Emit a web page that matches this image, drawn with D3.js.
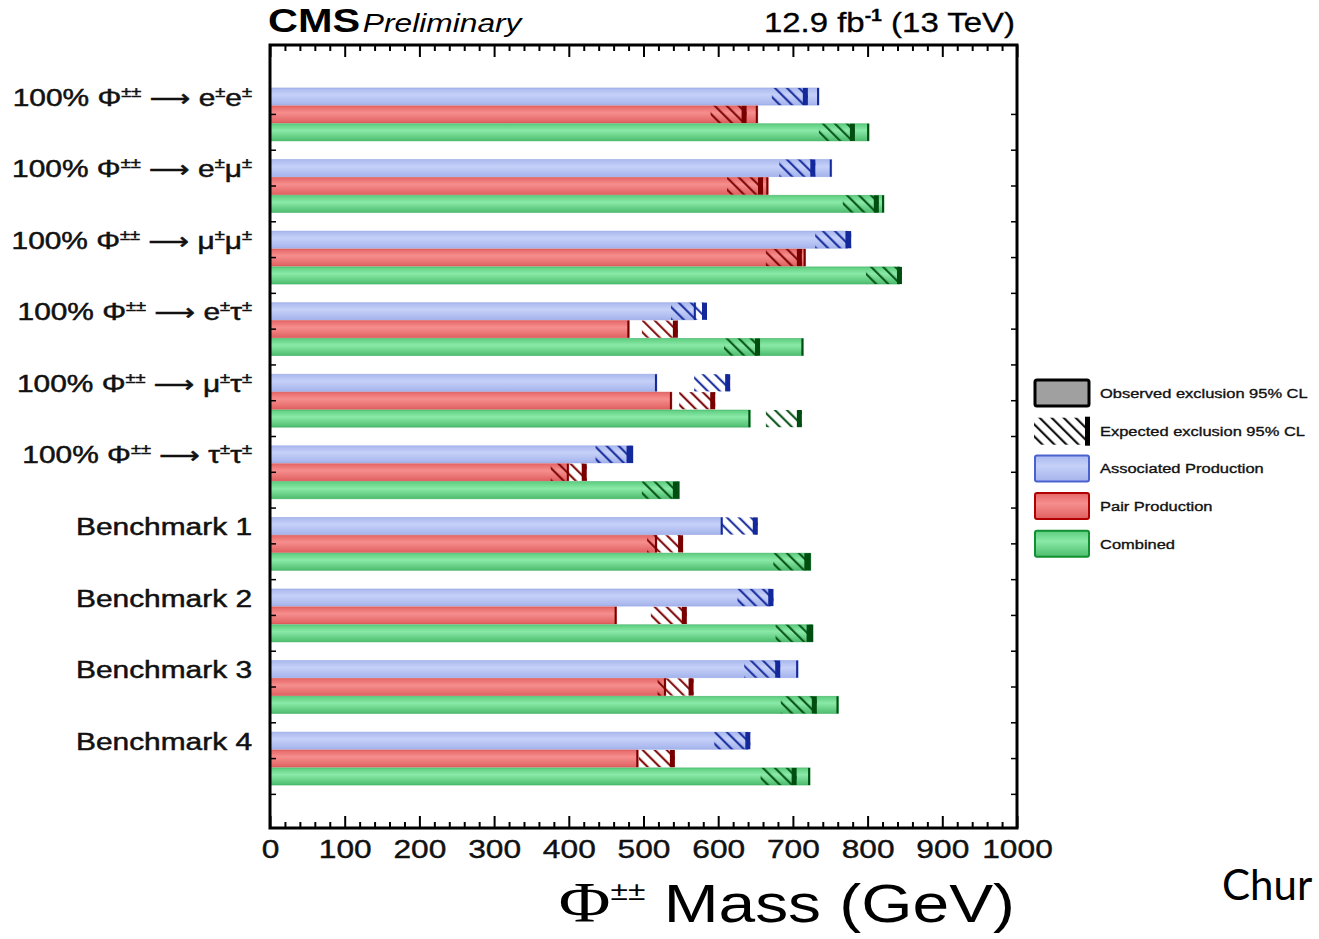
<!DOCTYPE html>
<html><head><meta charset="utf-8">
<script src="https://cdn.jsdelivr.net/npm/d3@7"></script>
<style>body{margin:0;background:#fff;} svg{display:block;}</style>
</head><body>
<svg id="chart" width="1319" height="939"></svg>
<script>
// ---------------- data ----------------
const categories = ["ee", "emu", "mumu", "etau", "mutau", "tautau", "B1", "B2", "B3", "B4"];
const categoryLabels = [
  "100% Φ^{±±} → e^{±}e^{±}",
  "100% Φ^{±±} → e^{±}μ^{±}",
  "100% Φ^{±±} → μ^{±}μ^{±}",
  "100% Φ^{±±} → e^{±}τ^{±}",
  "100% Φ^{±±} → μ^{±}τ^{±}",
  "100% Φ^{±±} → τ^{±}τ^{±}",
  "Benchmark 1", "Benchmark 2", "Benchmark 3", "Benchmark 4"
];
const seriesNames = ["Associated Production", "Pair Production", "Combined"];
// observed / expected 95% CL exclusion limits (GeV)
const assocObs = [735, 752, 773, 570, 518, 486, 606, 670, 707, 640];
const assocExp = [720, 730, 778, 585, 616, 484, 653, 674, 683, 643];
const pairObs  = [653, 667, 717, 481, 538, 400, 518, 464, 530, 493];
const pairExp  = [638, 660, 712, 546, 596, 424, 553, 558, 567, 542];
const combObs  = [802, 822, 843, 714, 643, 548, 724, 727, 761, 723];
const combExp  = [783, 815, 846, 656, 712, 546, 722, 725, 732, 705];
const xTickLabels = [0, 100, 200, 300, 400, 500, 600, 700, 800, 900, 1000];
const legendLabels = ["Observed exclusion 95% CL", "Expected exclusion 95% CL",
  "Associated Production", "Pair Production", "Combined"];

// ---------------- style ----------------
const SX = 1.22; // horizontal stretch of the original picture
const fillStops = [
  ["#a9b8ee", "#c6d1f8", "#a4b3ec"],
  ["#e66666", "#f68e8e", "#e06060"],
  ["#5ccd7e", "#8ae9a7", "#4dbd6e"]
];
const darkCols = ["#13289a", "#7a0000", "#004d10"];
const edgeCols = ["#8fa0e0", "#d04a4a", "#36a85a"];
const HATCH_W = 36, THICK = 5, THIN = 2;

const svg = d3.select("#chart");
const defs = svg.append("defs");

const x = d3.scaleLinear().domain([0, 1000]).range([270, 1017]);
const y = d3.scaleBand().domain(categories).range([45, 828]).paddingInner(0.26).paddingOuter(0.6);
const ys = d3.scaleBand().domain(seriesNames).range([0, y.bandwidth()]).paddingInner(0.04);

// gradients + hatch patterns
fillStops.forEach((st, i) => {
  const g = defs.append("linearGradient").attr("id", "grad" + i)
    .attr("x1", 0).attr("y1", 0).attr("x2", 0).attr("y2", 1);
  g.append("stop").attr("offset", "0%").attr("stop-color", st[0]);
  g.append("stop").attr("offset", "40%").attr("stop-color", st[1]);
  g.append("stop").attr("offset", "100%").attr("stop-color", st[2]);
});
[...darkCols, "#000"].forEach((c, i) => {
  const p = defs.append("pattern").attr("id", "hatch" + i)
    .attr("patternUnits", "userSpaceOnUse").attr("width", 8.5).attr("height", 8.5)
    .attr("patternTransform", "rotate(-45)");
  p.append("line").attr("x1", 4).attr("y1", -1).attr("x2", 4).attr("y2", 9.5)
    .attr("stroke", c).attr("stroke-width", 2);
});

// rows
const obsArr = [assocObs, pairObs, combObs];
const expArr = [assocExp, pairExp, combExp];
const rows = [];
categories.forEach((c, ci) => seriesNames.forEach((s, si) => {
  rows.push({cat: c, ser: s, si, obs: obsArr[si][ci], exp: expArr[si][ci]});
}));

const bars = svg.append("g").selectAll("g.bar").data(rows).join("g")
  .attr("class", "bar")
  .attr("transform", d => `translate(0,${y(d.cat) + ys(d.ser)})`);
const bh = ys.bandwidth();

bars.append("rect")
  .attr("x", x(0)).attr("y", 0)
  .attr("width", d => x(d.obs) - x(0)).attr("height", bh)
  .attr("fill", d => `url(#grad${d.si})`)
  .attr("stroke", d => edgeCols[d.si]).attr("stroke-width", 0.8).attr("stroke-opacity", 0.6);
bars.append("rect")
  .attr("x", d => x(d.exp) - HATCH_W).attr("y", 0)
  .attr("width", HATCH_W).attr("height", bh)
  .attr("fill", d => `url(#hatch${d.si})`);
bars.append("rect")
  .attr("x", d => x(d.obs) - THIN).attr("y", 0)
  .attr("width", THIN).attr("height", bh)
  .attr("fill", d => darkCols[d.si]);
bars.append("rect")
  .attr("x", d => x(d.exp) - THICK).attr("y", 0)
  .attr("width", THICK).attr("height", bh)
  .attr("fill", d => darkCols[d.si]);

// category labels
const fontSans = "'Liberation Sans', Arial, Helvetica, sans-serif";
function richText(sel, str, size, supSize, supShift) {
  const parts = str.split(/\^\{([^}]*)\}/);
  let prevSup = false;
  parts.forEach((p, i) => {
    const sup = i % 2 === 1;
    if (!p) { return; }
    const segs = sup ? [p] : p.split(/(→)/);
    segs.forEach(s => {
      if (!s) return;
      const t = sel.append("tspan").attr("font-size", sup ? supSize : size);
      if (s === "→") {
        t.text("⟶").attr("font-family", "'DejaVu Sans', sans-serif").attr("font-size", size * 0.95);
      } else t.text(s);
      if (sup && !prevSup) t.attr("dy", -supShift);
      if (!sup && prevSup) t.attr("dy", supShift);
      prevSup = sup;
    });
  });
}
svg.append("g").selectAll("text.cat").data(categories).join("text")
  .attr("class", "cat")
  .attr("transform", d => `translate(252,${y(d) + ys.bandwidth() / 2 + 9}) scale(${SX},1)`)
  .attr("text-anchor", "end")
  .attr("font-family", fontSans).attr("fill", "#111")
  .attr("stroke", "#111").attr("stroke-width", 0.5)
  .each(function (d, i) { richText(d3.select(this), categoryLabels[i], 24.5, 15, 9); });

// frame ticks
const majorVals = xTickLabels;
const minorVals = d3.range(0, 1001, 20).filter(v => v % 100 !== 0);
const topG = svg.append("g").attr("transform", "translate(0,45)");
topG.append("g").call(d3.axisBottom(x).tickValues(majorVals).tickSize(12).tickFormat(""));
topG.append("g").call(d3.axisBottom(x).tickValues(minorVals).tickSize(6).tickFormat(""));
const botG = svg.append("g").attr("transform", "translate(0,828)");
botG.append("g").call(d3.axisTop(x).tickValues(majorVals).tickSize(12).tickFormat(""));
botG.append("g").call(d3.axisTop(x).tickValues(minorVals).tickSize(6).tickFormat(""));
[topG, botG].forEach(g => {
  g.selectAll(".domain").remove();
  g.selectAll(".tick line").attr("stroke", "#000").attr("stroke-width", 2);
});
const labG = svg.append("g").attr("transform", "translate(0,828)")
  .call(d3.axisBottom(x).tickValues(xTickLabels).tickSize(0).tickPadding(12).tickFormat(d3.format("d")));
labG.select(".domain").remove();
labG.selectAll("text").attr("font-family", fontSans).attr("font-size", 26).attr("fill", "#111")
  .attr("stroke", "#111").attr("stroke-width", 0.4)
  .attr("transform", `scale(${SX},1)`);

// y minor ticks (group centres and boundaries)
const yTickPos = [];
categories.forEach(c => {
  yTickPos.push(y(c) + y.bandwidth() / 2);
  yTickPos.push(y(c) + y.bandwidth() + (y.step() - y.bandwidth()) / 2);
});
svg.append("g").selectAll("line.yl").data(yTickPos.filter(v => v < 826)).join("line")
  .attr("x1", 270).attr("x2", 276).attr("y1", d => d).attr("y2", d => d)
  .attr("stroke", "#000").attr("stroke-width", 1.5);
svg.append("g").selectAll("line.yr").data(yTickPos.filter(v => v < 826)).join("line")
  .attr("x1", 1011).attr("x2", 1017).attr("y1", d => d).attr("y2", d => d)
  .attr("stroke", "#000").attr("stroke-width", 1.5);

// frame
svg.append("rect").attr("x", 270).attr("y", 45).attr("width", 747).attr("height", 783)
  .attr("fill", "none").attr("stroke", "#000").attr("stroke-width", 3);

// header
const hdr = svg.append("text").attr("transform", `translate(268,32) scale(${SX},1)`)
  .attr("font-family", fontSans).attr("fill", "#000");
hdr.append("tspan").text("CMS").attr("font-weight", "bold").attr("font-size", 34);
hdr.append("tspan").text(" Preliminary").attr("font-style", "italic").attr("font-size", 26).attr("dx", -5);
const lumi = svg.append("text").attr("transform", `translate(1015,32) scale(${SX},1)`)
  .attr("text-anchor", "end").attr("font-family", fontSans).attr("fill", "#000").attr("font-size", 27)
  .attr("stroke", "#000").attr("stroke-width", 0.3);
lumi.append("tspan").text("12.9 fb");
lumi.append("tspan").text("-1").attr("font-size", 16).attr("font-weight", "bold").attr("dy", -11);
lumi.append("tspan").text(" (13 TeV)").attr("dy", 11);

// x title
const xt = svg.append("text").attr("transform", `translate(1015,922) scale(${SX},1)`)
  .attr("text-anchor", "end").attr("fill", "#000");
xt.append("tspan").text("Φ").attr("font-family", "'Liberation Serif', 'DejaVu Serif', serif").attr("font-size", 58);
xt.append("tspan").text("±±").attr("font-family", fontSans).attr("font-size", 26).attr("dy", -22);
xt.append("tspan").text(" Mass (GeV)").attr("font-family", fontSans).attr("font-size", 54).attr("dy", 22);

// legend
const legFill = ["#a0a0a0", "none", "url(#grad0)", "url(#grad1)", "url(#grad2)"];
const legStroke = ["#000", "none", "#4a62d0", "#b00000", "#109030"];
const leg = svg.append("g").selectAll("g.leg").data(legendLabels).join("g")
  .attr("class", "leg").attr("transform", (d, i) => `translate(1034,${380 + i * 37.7})`);
leg.each(function (d, i) {
  const g = d3.select(this);
  if (i === 1) {
    g.append("rect").attr("x", 0).attr("y", 0).attr("width", 56).attr("height", 27).attr("fill", "url(#hatch3)");
    g.append("rect").attr("x", 51).attr("y", -1).attr("width", 5).attr("height", 29).attr("fill", "#000");
  } else {
    g.append("rect").attr("x", 1).attr("y", 0).attr("width", 54).attr("height", 26)
      .attr("rx", 2).attr("fill", legFill[i]).attr("stroke", legStroke[i]).attr("stroke-width", i === 0 ? 3 : 2);
  }
  g.append("text").attr("transform", `translate(66,18) scale(${SX},1)`)
    .attr("font-family", fontSans).attr("font-size", 13.5).attr("fill", "#111")
    .attr("stroke", "#111").attr("stroke-width", 0.35).text(d);
});

// stray text at bottom right
svg.append("text").attr("x", 1222).attr("y", 900).attr("font-family", "Lato, 'Open Sans', sans-serif")
  .attr("font-size", 42).attr("fill", "#000").text("Chur");
</script>
</body></html>
